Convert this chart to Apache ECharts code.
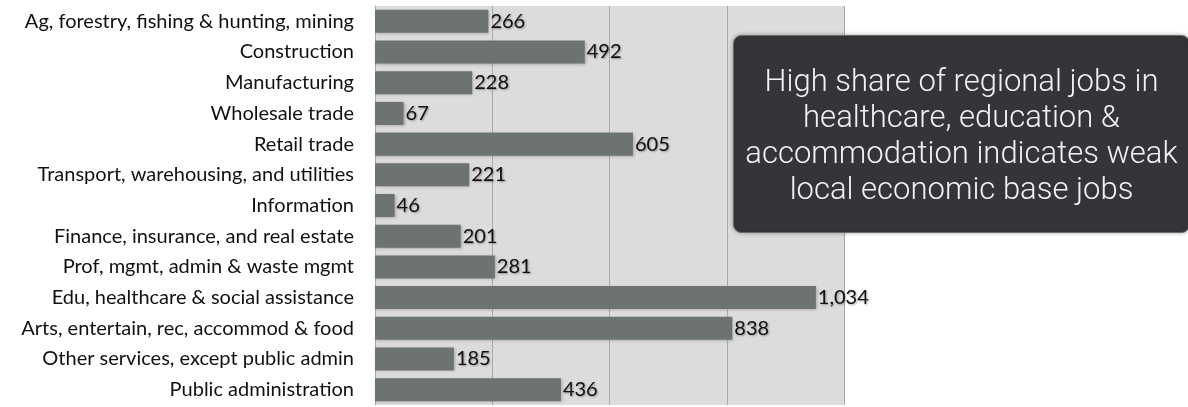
<!DOCTYPE html>
<html><head><meta charset="utf-8">
<script src="https://cdn.jsdelivr.net/npm/echarts@6/dist/echarts.min.js"></script>
<style>html,body{margin:0;padding:0;background:#fff}#c{width:1188px;height:407px}</style>
</head><body><div id="c"></div>
<script>
const categories = [
  "Ag, forestry, fishing & hunting, mining",
  "Construction",
  "Manufacturing",
  "Wholesale trade",
  "Retail trade",
  "Transport, warehousing, and utilities",
  "Information",
  "Finance, insurance, and real estate",
  "Prof, mgmt, admin & waste mgmt",
  "Edu, healthcare & social assistance",
  "Arts, entertain, rec, accommod & food",
  "Other services, except public admin",
  "Public administration"
];
const jobs = [266, 492, 228, 67, 605, 221, 46, 201, 281, 1034, 838, 185, 436];
const axisMin = 0, axisMax = 1100, axisInterval = 275;
const noteLines = [
  "High share of regional jobs in",
  "healthcare, education &",
  "accommodation indicates weak",
  "local economic base jobs"
];

const chart = echarts.init(document.getElementById('c'), null, {renderer: 'canvas'});
const font = 'Lato, "Open Sans", sans-serif';
chart.setOption({
  animation: false,
  grid: {left: 375, right: 344, top: 6, bottom: 2, show: true, backgroundColor: '#dcdcdc', borderWidth: 0, containLabel: false},
  xAxis: {
    type: 'value', min: axisMin, max: axisMax, interval: axisInterval,
    axisLabel: {show: false}, axisTick: {show: false}, axisLine: {show: false},
    splitLine: {show: true, lineStyle: {color: '#a9a9ad', width: 1}}
  },
  yAxis: {
    type: 'category', data: categories, inverse: true,
    axisTick: {show: false},
    axisLine: {show: true, lineStyle: {color: '#a9a9ad', width: 1}},
    axisLabel: {color: '#111', fontFamily: font, fontSize: 20, margin: 21}
  },
  series: [{
    type: 'bar', data: jobs, barCategoryGap: '25%',
    itemStyle: {color: '#6d7370', shadowColor: 'rgba(0,0,0,0.25)', shadowBlur: 3, shadowOffsetX: 1, shadowOffsetY: 1},
    label: {
      show: true, position: 'right', distance: 2, color: '#111', fontFamily: font, fontSize: 20,
      textShadowColor: 'rgba(0,0,0,0.35)', textShadowBlur: 2, textShadowOffsetX: 1, textShadowOffsetY: 1,
      formatter: p => p.value.toLocaleString('en-US')
    }
  }],
  graphic: [{
    type: 'group', left: 733, top: 35, z: 100,
    children: [
      {type: 'rect', z: 100, shape: {x: 0, y: 0, width: 456, height: 197, r: 8},
       style: {fill: '#343538', stroke: '#6a6a6a', lineWidth: 1, shadowColor: 'rgba(0,0,0,0.3)', shadowBlur: 4}},
      {type: 'text', z: 101, x: 228, y: 102,
       style: {text: noteLines.join('\n'), fill: '#f2f2f2', font: '300 31px Roboto, "Open Sans", sans-serif', lineHeight: 36, align: 'center', verticalAlign: 'middle'}}
    ]
  }]
});
</script></body></html>
